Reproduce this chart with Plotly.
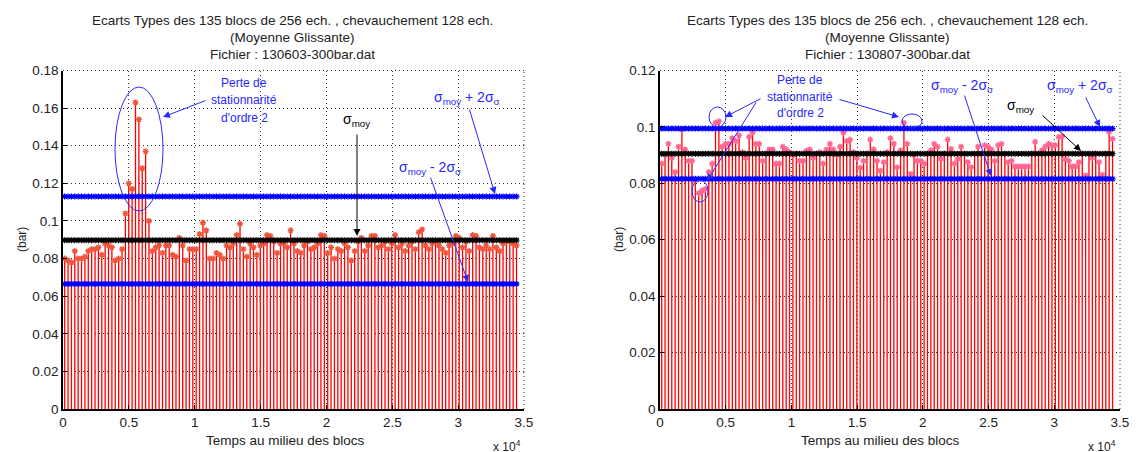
import plotly.graph_objects as go

W, H = 1138, 452
OX, OY = 8, 8  # page body margin compensation

# ---------------- data ----------------
n_blocks = 135
block_hop = 256
block_mid = 128
time_mid = [block_mid + block_hop * i for i in range(n_blocks)]

std_left = [
    0.080, 0.079, 0.078, 0.084, 0.080, 0.080, 0.081, 0.084, 0.085, 0.085,
    0.086, 0.082, 0.088, 0.087, 0.086, 0.079, 0.080, 0.085, 0.104, 0.120,
    0.117, 0.163, 0.154, 0.128, 0.137, 0.100, 0.084, 0.086, 0.087, 0.083,
    0.087, 0.087, 0.082, 0.081, 0.091, 0.087, 0.079, 0.085, 0.085, 0.085,
    0.093, 0.099, 0.095, 0.080, 0.080, 0.083, 0.082, 0.080, 0.087, 0.086,
    0.088, 0.0925, 0.0985, 0.085, 0.081, 0.088, 0.086, 0.082, 0.087, 0.088,
    0.0925, 0.092, 0.089, 0.083, 0.088, 0.088, 0.086, 0.095, 0.088, 0.084,
    0.083, 0.087, 0.089, 0.085, 0.086, 0.088, 0.0925, 0.092, 0.083, 0.086,
    0.080, 0.085, 0.084, 0.088, 0.086, 0.079, 0.084, 0.089, 0.091, 0.084,
    0.087, 0.092, 0.092, 0.086, 0.087, 0.089, 0.085, 0.088, 0.0925, 0.086,
    0.088, 0.084, 0.087, 0.089, 0.085, 0.094, 0.0955, 0.087, 0.085, 0.088,
    0.089, 0.087, 0.085, 0.083, 0.087, 0.088, 0.092, 0.091, 0.086, 0.089,
    0.084, 0.0925, 0.092, 0.086, 0.085, 0.087, 0.085, 0.092, 0.086, 0.084,
    0.088, 0.089, 0.089, 0.088, 0.087,
]

std_right = [
    0.087, 0.090, 0.094, 0.089, 0.084, 0.093, 0.099, 0.092, 0.088, 0.088,
    0.081, 0.0765, 0.0775, 0.078, 0.084, 0.087, 0.1015, 0.102, 0.093, 0.094,
    0.094, 0.096, 0.095, 0.097, 0.091, 0.089, 0.0965, 0.098, 0.094, 0.094,
    0.088, 0.0905, 0.092, 0.092, 0.087, 0.087, 0.093, 0.092, 0.091, 0.090,
    0.0905, 0.088, 0.088, 0.0915, 0.092, 0.089, 0.0905, 0.091, 0.087, 0.092,
    0.094, 0.092, 0.090, 0.093, 0.098, 0.095, 0.0955, 0.091, 0.089, 0.0855,
    0.088, 0.0905, 0.0955, 0.092, 0.088, 0.0845, 0.0875, 0.091, 0.096, 0.094,
    0.0857, 0.0917, 0.1015, 0.094, 0.0833, 0.090, 0.088, 0.088, 0.087, 0.0905,
    0.0917, 0.094, 0.093, 0.0887, 0.0905, 0.0955, 0.0922, 0.087, 0.0887, 0.093,
    0.0905, 0.0875, 0.0857, 0.0905, 0.093, 0.0905, 0.0935, 0.093, 0.092, 0.088,
    0.0935, 0.094, 0.0905, 0.0875, 0.088, 0.086, 0.086, 0.086, 0.086, 0.086,
    0.0905, 0.0947, 0.0905, 0.0917, 0.093, 0.094, 0.0935, 0.0935, 0.0964, 0.0966,
    0.0887, 0.088, 0.086, 0.086, 0.0875, 0.0905, 0.0828, 0.0905, 0.089, 0.0905,
    0.0875, 0.083, 0.0905, 0.0982, 0.0958,
]

mean_left, upper_left, lower_left = 0.0898, 0.1130, 0.0665
mean_right, upper_right, lower_right = 0.0905, 0.0994, 0.0816

x_tickvals = [0, 5000, 10000, 15000, 20000, 25000, 30000, 35000]
x_ticktext = ["0", "0.5", "1", "1.5", "2", "2.5", "3", "3.5"]
yl_tickvals = [0, 0.02, 0.04, 0.06, 0.08, 0.1, 0.12, 0.14, 0.16, 0.18]
yl_ticktext = ["0", "0.02", "0.04", "0.06", "0.08", "0.1", "0.12", "0.14", "0.16", "0.18"]
yr_tickvals = [0, 0.02, 0.04, 0.06, 0.08, 0.1, 0.12]
yr_ticktext = ["0", "0.02", "0.04", "0.06", "0.08", "0.1", "0.12"]

title_lines = ["Ecarts Types des 135 blocs de 256 ech. , chevauchement 128 ech.",
               "(Moyenne Glissante)"]
file_left = "Fichier : 130603-300bar.dat"
file_right = "Fichier : 130807-300bar.dat"

# ---------------- figure ----------------
fig = go.Figure()


def add_panel(xa, ya, vals, m, up, lo):
    sx, sy = [], []
    for t, v in zip(time_mid, vals):
        sx += [t, t, None]
        sy += [0, v, None]
    fig.add_trace(go.Scatter(x=sx, y=sy, mode="lines", xaxis=xa, yaxis=ya,
                             line=dict(color="rgb(255,0,0)", width=1.3),
                             hoverinfo="skip", showlegend=False))
    fig.add_trace(go.Scatter(x=time_mid, y=vals, mode="markers", xaxis=xa, yaxis=ya,
                             marker=dict(symbol="asterisk-open", size=5,
                                         line=dict(color="red", width=1.4)),
                             showlegend=False))
    for val, col in [(up, "blue"), (lo, "blue"), (m, "black")]:
        fig.add_trace(go.Scatter(x=time_mid, y=[val] * len(time_mid), mode="lines+markers",
                                 xaxis=xa, yaxis=ya,
                                 line=dict(color=col, width=2),
                                 marker=dict(symbol="asterisk-open", size=5,
                                             line=dict(color=col, width=1.3)),
                                 showlegend=False))


add_panel("x", "y", std_left, mean_left, upper_left, lower_left)
add_panel("x2", "y2", std_right, mean_right, upper_right, lower_right)

FONT = "Liberation Sans, Arial"


def fx(px):
    return (px - OX) / W


def fy(py):
    return 1 - (py - OY) / H


ydom = [fy(409), fy(70.5)]
GRIDDASH = "1px,3px"
axis_common = dict(showline=True, linecolor="black", linewidth=1.5, ticks="inside",
                   ticklen=4, tickcolor="black", showgrid=True, gridcolor="rgba(0,0,0,0.8)",
                   griddash=GRIDDASH, gridwidth=1, zeroline=False, automargin=False,
                   tickfont=dict(family=FONT, size=13.5, color="#222"))

fig.update_layout(
    width=W, height=H, margin=dict(l=0, r=0, t=0, b=0, pad=0), autosize=False,
    paper_bgcolor="white", plot_bgcolor="white",
    xaxis=dict(domain=[fx(63), fx(524)], range=[0, 35000], anchor="y",
               tickvals=x_tickvals, ticktext=x_ticktext, **axis_common),
    yaxis=dict(domain=ydom, range=[0, 0.18], anchor="x",
               tickvals=yl_tickvals, ticktext=yl_ticktext, **axis_common),
    xaxis2=dict(domain=[fx(660), fx(1120)], range=[0, 35000], anchor="y2",
                tickvals=x_tickvals, ticktext=x_ticktext, **axis_common),
    yaxis2=dict(domain=ydom, range=[0, 0.12], anchor="x2",
                tickvals=yr_tickvals, ticktext=yr_ticktext, **axis_common),
)


def P(px, py):
    return fx(px), fy(py)


anns = []
shapes = []

# dotted top / right box edges
for xr, yr in [("x domain", "y domain"), ("x2 domain", "y2 domain")]:
    shapes.append(dict(type="line", xref=xr, yref=yr, x0=0, x1=1, y0=1, y1=1,
                       line=dict(color="rgba(0,0,0,0.8)", width=1, dash=GRIDDASH), layer="below"))
    shapes.append(dict(type="line", xref=xr, yref=yr, x0=1, x1=1, y0=0, y1=1,
                       line=dict(color="rgba(0,0,0,0.8)", width=1, dash=GRIDDASH), layer="below"))


def text(px, py, s, size=11, color="#222", angle=0):
    x, y = P(px, py)
    anns.append(dict(x=x, y=y, xref="paper", yref="paper", text=s, showarrow=False,
                     font=dict(family=FONT, size=size, color=color),
                     xanchor="center", yanchor="middle", textangle=angle))


def arrow(tail, head, color="blue", width=1):
    x, y = P(*head)
    anns.append(dict(x=x, y=y, xref="paper", yref="paper", text="",
                     showarrow=True, axref="pixel", ayref="pixel",
                     ax=tail[0] - head[0], ay=tail[1] - head[1],
                     arrowhead=2, arrowsize=1.4, arrowwidth=width, arrowcolor=color,
                     standoff=0, startstandoff=0))


def ellipse(x0, y0, x1, y1, color="blue"):
    a, b = P(x0, y1)
    c, d = P(x1, y0)
    shapes.append(dict(type="circle", xref="paper", yref="paper", x0=a, y0=b, x1=c, y1=d,
                       line=dict(color=color, width=1)))


# titles
for cx, fname in [(292, file_left), (887, file_right)]:
    text(cx, 20, title_lines[0], 13.5)
    text(cx, 37, title_lines[1], 13.5)
    text(cx, 54, fname, 13.5)
    text(cx - 7, 440, "Temps au milieu des blocs", 13.5)

text(22, 240, "(bar)", 12, angle=-90)
text(619, 240, "(bar)", 12, angle=-90)
text(507, 446, "x 10<sup>4</sup>", 12)
text(1102, 446, "x 10<sup>4</sup>", 12)

sig_plus = "σ<sub>moy</sub> + 2σ<sub>σ</sub>"
sig_minus = "σ<sub>moy</sub> - 2σ<sub>σ</sub>"
sig_moy = "σ<sub>moy</sub>"
BL = "rgb(40,40,255)"

# left annotations
ellipse(115, 87, 163, 211, BL)
text(244, 83, "Perte de", 12, BL)
text(244, 100, "stationnarité", 12, BL)
text(244, 118, "d'ordre 2", 12, BL)
arrow((207, 100), (163, 117), BL)
text(356, 120, sig_moy, 14, "black")
arrow((357, 133), (357, 236), "black")
text(467, 98, sig_plus, 14, BL)
arrow((469, 108), (495, 194), BL)
text(430, 168, sig_minus, 14, BL)
arrow((430, 176), (468, 282), BL)

# right annotations
ellipse(709, 107, 726, 127, BL)
ellipse(692, 180, 708, 202, BL)
ellipse(902, 114, 922, 128, BL)
text(800, 80, "Perte de", 12, BL)
text(800, 97, "stationnarité", 12, BL)
text(800, 113, "d'ordre 2", 12, BL)
arrow((762, 98), (725, 117), BL)
arrow((757, 101), (707, 181), BL)
arrow((838, 99), (899, 117), BL)
text(962, 86, sig_minus, 14, BL)
arrow((964, 94), (991, 176), BL)
text(1080, 86, sig_plus, 14, BL)
arrow((1085, 96), (1100, 127), BL)
text(1020, 106, sig_moy, 14, "black")
arrow((1041, 114), (1081, 151), "black")

fig.update_layout(annotations=anns, shapes=shapes)
fig.write_html("out.html")
